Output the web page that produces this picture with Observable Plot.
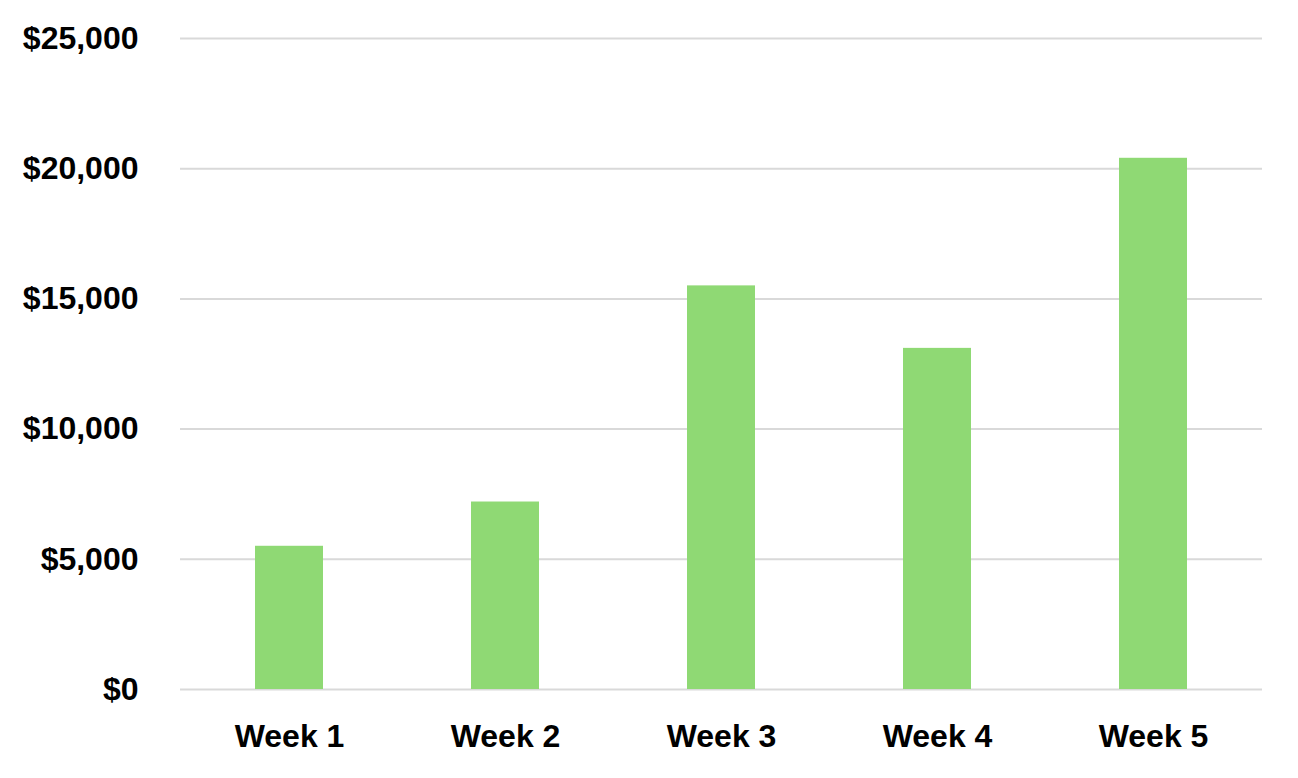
<!DOCTYPE html>
<html>
<head>
<meta charset="utf-8">
<script src="https://cdn.jsdelivr.net/npm/d3@7"></script>
<script src="https://cdn.jsdelivr.net/npm/@observablehq/plot@0.6"></script>
<style>
  html, body { margin: 0; padding: 0; background: #fff; }
  #chart svg { display: block; }
</style>
</head>
<body>
<div id="chart"></div>
<script>
const weeks = ["Week 1", "Week 2", "Week 3", "Week 4", "Week 5"];
const sales = [5500, 7200, 15500, 13100, 20400];
const yTicks = [0, 5000, 10000, 15000, 20000, 25000];

const data = weeks.map((w, i) => ({week: w, value: sales[i]}));

const chart = Plot.plot({
  width: 1298,
  height: 778,
  marginLeft: 180,
  marginRight: 36,
  marginTop: 38,
  marginBottom: 89,
  style: {fontFamily: "'Liberation Sans', Arial, sans-serif", fontWeight: "bold", fontSize: "32px", color: "#000", background: "#fff"},
  x: {domain: weeks, paddingInner: 0.686, paddingOuter: 0.343, label: null},
  y: {domain: [0, 25000], label: null},
  marks: [
    Plot.gridY(yTicks, {stroke: "#d9d9d9", strokeWidth: 2, strokeOpacity: 1}),
    Plot.barY(data, {x: "week", y: "value", fill: "#8fd974"}),
    Plot.axisY(yTicks, {tickSize: 0, tickPadding: 42, tickFormat: d3.format("$,"), fontSize: 32, fontWeight: "bold", label: null, fill: "#000"}),
    Plot.axisX({tickSize: 0, tickPadding: 35, fontSize: 32, fontWeight: "bold", label: null, fill: "#000"})
  ]
});
document.getElementById("chart").appendChild(chart);
</script>
</body>
</html>
